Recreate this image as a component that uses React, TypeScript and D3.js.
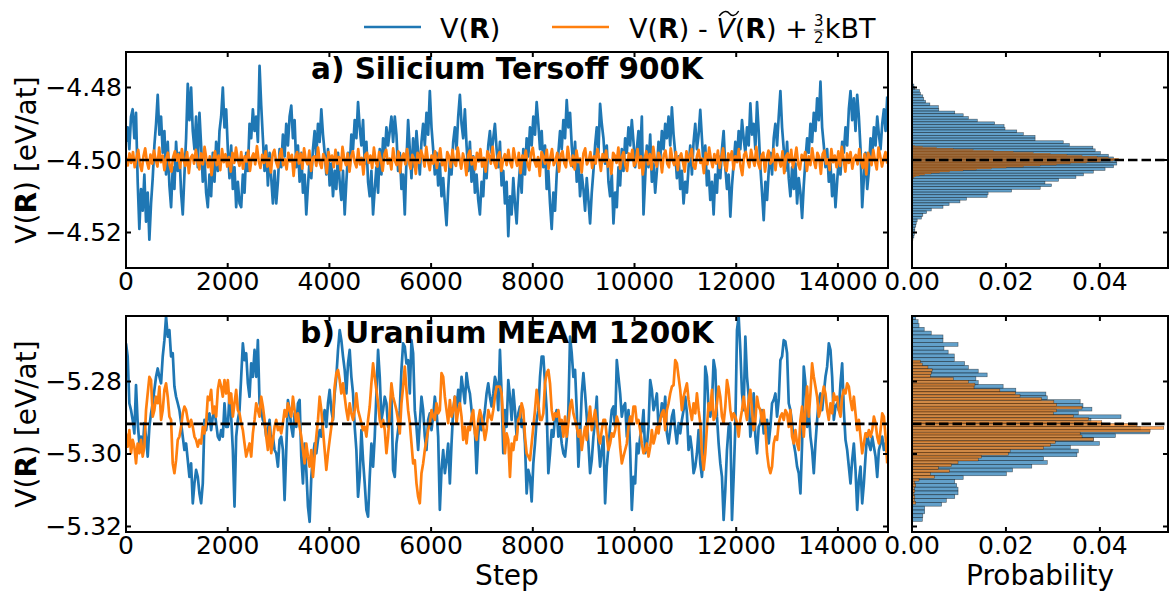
import React, { useLayoutEffect, useRef, useState } from "react";
import * as d3 from "d3";

// ---------------- DATA ----------------
const STEP_FIRST = 0;
const STEP_LAST = 14970;
const STEP_TICKS = [0, 2000, 4000, 6000, 8000, 10000, 12000, 14000];
const PROB_TICKS = [0, 0.02, 0.04];
const SI_TICKS = [-4.52, -4.5, -4.48];
const U_TICKS = [-5.32, -5.3, -5.28];
const TITLES = ["a) Silicium Tersoff 900K", "b) Uranium MEAM 1200K"];
const SI_REF = -4.5;
const U_REF = -5.2917;

// Silicium Tersoff 900K : V(R)
const SI_V = [
-4.495,-4.491,-4.497,-4.488,-4.486,-4.494,-4.487,-4.506,-4.519,-4.508,
-4.514,-4.504,-4.517,-4.509,-4.522,-4.512,-4.505,-4.496,-4.490,-4.482,
-4.493,-4.488,-4.498,-4.492,-4.504,-4.495,-4.507,-4.513,-4.502,-4.508,
-4.495,-4.503,-4.498,-4.509,-4.515,-4.504,-4.494,-4.479,-4.489,-4.480,
-4.492,-4.497,-4.488,-4.502,-4.487,-4.496,-4.506,-4.499,-4.509,-4.513,
-4.504,-4.510,-4.498,-4.506,-4.495,-4.503,-4.492,-4.488,-4.480,-4.491,
-4.486,-4.497,-4.505,-4.496,-4.508,-4.502,-4.513,-4.506,-4.512,-4.513,
-4.504,-4.509,-4.498,-4.503,-4.490,-4.494,-4.486,-4.492,-4.488,-4.495,
-4.474,-4.485,-4.494,-4.503,-4.496,-4.507,-4.498,-4.505,-4.512,-4.503,
-4.512,-4.506,-4.497,-4.502,-4.493,-4.499,-4.490,-4.496,-4.488,-4.485,
-4.494,-4.489,-4.502,-4.496,-4.506,-4.498,-4.509,-4.504,-4.515,-4.507,
-4.500,-4.505,-4.497,-4.492,-4.499,-4.490,-4.495,-4.486,-4.493,-4.498,
-4.504,-4.497,-4.507,-4.501,-4.510,-4.503,-4.508,-4.498,-4.506,-4.511,
-4.503,-4.515,-4.506,-4.498,-4.502,-4.493,-4.497,-4.489,-4.494,-4.484,
-4.491,-4.496,-4.489,-4.501,-4.495,-4.506,-4.510,-4.503,-4.515,-4.508,
-4.502,-4.509,-4.497,-4.504,-4.494,-4.499,-4.491,-4.496,-4.492,-4.488,
-4.495,-4.488,-4.493,-4.503,-4.498,-4.508,-4.504,-4.515,-4.500,-4.489,
-4.497,-4.505,-4.494,-4.502,-4.492,-4.498,-4.504,-4.495,-4.490,-4.496,
-4.487,-4.493,-4.481,-4.491,-4.497,-4.504,-4.498,-4.507,-4.501,-4.510,
-4.505,-4.512,-4.518,-4.508,-4.500,-4.504,-4.495,-4.491,-4.497,-4.488,
-4.482,-4.490,-4.494,-4.486,-4.496,-4.503,-4.495,-4.506,-4.499,-4.509,
-4.504,-4.511,-4.515,-4.506,-4.510,-4.500,-4.505,-4.496,-4.492,-4.498,
-4.494,-4.490,-4.497,-4.502,-4.495,-4.507,-4.503,-4.512,-4.506,-4.521,
-4.510,-4.515,-4.505,-4.512,-4.5175,-4.508,-4.502,-4.509,-4.497,-4.504,
-4.494,-4.499,-4.491,-4.496,-4.488,-4.493,-4.484,-4.490,-4.497,-4.492,
-4.502,-4.496,-4.508,-4.503,-4.512,-4.519,-4.509,-4.514,-4.504,-4.498,
-4.492,-4.497,-4.489,-4.494,-4.4835,-4.491,-4.487,-4.496,-4.502,-4.495,
-4.506,-4.500,-4.510,-4.504,-4.508,-4.514,-4.505,-4.511,-4.5175,-4.509,
-4.503,-4.496,-4.491,-4.498,-4.4845,-4.490,-4.494,-4.501,-4.496,-4.506,
-4.510,-4.504,-4.5175,-4.509,-4.513,-4.502,-4.507,-4.497,-4.503,-4.494,
-4.498,-4.491,-4.496,-4.489,-4.495,-4.502,-4.497,-4.492,-4.499,-4.488,
-4.515,-4.505,-4.496,-4.502,-4.493,-4.506,-4.501,-4.509,-4.503,-4.495,
-4.500,-4.492,-4.497,-4.490,-4.494,-4.488,-4.496,-4.4855,-4.493,-4.498,
-4.505,-4.499,-4.508,-4.503,-4.512,-4.506,-4.509,-4.502,-4.496,-4.504,
-4.495,-4.490,-4.497,-4.493,-4.4862,-4.494,-4.502,-4.496,-4.507,-4.503,
-4.511,-4.506,-4.515,-4.504,-4.509,-4.499,-4.505,-4.497,-4.492,-4.502,
-4.508,-4.504,-4.5156,-4.507,-4.501,-4.495,-4.500,-4.492,-4.497,-4.489,
-4.494,-4.498,-4.491,-4.496,-4.4844,-4.493,-4.490,-4.497,-4.484,-4.492,
-4.502,-4.509,-4.5166,-4.506,-4.511,-4.503,-4.498,-4.504,-4.494,-4.490,
-4.496,-4.488,-4.481,-4.491,-4.497,-4.503,-4.495,-4.505,-4.510,-4.502,
-4.508,-4.501,-4.512,-4.505,-4.509,-4.516,-4.507,-4.500,-4.494,-4.498,
-4.490,-4.495,-4.487,-4.492,-4.483,-4.489,-4.4784,-4.491,-4.496,-4.502,
-4.497,-4.506,-4.501,-4.510,-4.504,-4.513,-4.506,-4.499,-4.504,-4.495,
-4.498,-4.491,-4.496,-4.486,-4.481,-4.489,-4.483,-4.492,-4.482,-4.488,
-4.497,-4.513,-4.505,-4.498,-4.508,-4.503,-4.494,-4.499,-4.491,-4.496,
-4.488,-4.493,-4.497,-4.490,-4.486,-4.492,-4.4825
];

// Silicium Tersoff 900K : V(R) - Vtilde(R) + 3/2 kBT
const SI_CORR = [
-4.4995,-4.5015,-4.4982,-4.5008,-4.4978,-4.502,-4.4994,-4.4972,-4.5012,-4.503,-4.499,-4.4968,-4.5005,-4.5024,-4.4985,-4.501,-4.4974,-4.4998,-4.5018,-4.4966,
-4.5006,-4.4988,-4.5028,-4.4996,-4.498,-4.5014,-4.5032,-4.4992,-4.4976,-4.5002,-4.4984,-4.5022,-4.497,-4.5,-4.5016,-4.4978,-4.5036,-4.4994,-4.4986,-4.501,
-4.4972,-4.5004,-4.5026,-4.4982,-4.5012,-4.4964,-4.4996,-4.502,-4.499,-4.5042,-4.4998,-4.4976,-4.5014,-4.4988,-4.5028,-4.497,-4.5006,-4.4984,-4.5018,-4.4992,
-4.5032,-4.498,-4.5008,-4.4966,-4.4998,-4.5016,-4.4978,-4.5024,-4.499,-4.5004,-4.4974,-4.503,-4.4994,-4.4982,-4.5012,-4.4962,-4.5002,-4.5022,-4.4986,-4.5008,
-4.4976,-4.5018,-4.4996,-4.5034,-4.4984,-4.4972,-4.5006,-4.502,-4.4988,-4.497,-4.5014,-4.4998,-4.5026,-4.498,-4.5004,-4.4986,-4.5044,-4.4992,-4.4978,-4.501,
-4.4982,-4.5024,-4.4968,-4.5,-4.5012,-4.4974,-4.503,-4.4994,-4.499,-4.5016,-4.4966,-4.5008,-4.5022,-4.4984,-4.4996,-4.5036,-4.4978,-4.5002,-4.4988,-4.502,
-4.4972,-4.501,-4.4992,-4.5028,-4.4964,-4.4998,-4.5014,-4.4982,-4.5032,-4.499,-4.4976,-4.5006,-4.502,-4.497,-4.5012,-4.4994,-4.504,-4.4986,-4.498,-4.5008,
-4.4988,-4.5022,-4.4966,-4.5004,-4.5018,-4.4978,-4.5,-4.503,-4.4984,-4.4972,-4.501,-4.4996,-4.5026,-4.4968,-4.5002,-4.5014,-4.4976,-4.5034,-4.4992,-4.4982,
-4.5012,-4.497,-4.5006,-4.5024,-4.4986,-4.4998,-4.5038,-4.498,-4.5008,-4.4974,-4.499,-4.5018,-4.4964,-4.5004,-4.5028,-4.4988,-4.501,-4.4976,-4.5022,-4.4994,
-4.4968,-4.5014,-4.5,-4.503,-4.4978,-4.499,-4.502,-4.4972,-4.5006,-4.5016,-4.4966,-4.4996,-4.5024,-4.4982,-4.5002,-4.5042,-4.4986,-4.4974,-4.5012,-4.4992,
-4.5026,-4.498,-4.5004,-4.497,-4.5018,-4.4994,-4.5032,-4.4976,-4.4988,-4.501,-4.4964,-4.5008,-4.5022,-4.499,-4.4978,-4.503,-4.4998,-4.4984,-4.5014,-4.4972,
-4.5006,-4.502,-4.4968,-4.4996,-4.5016,-4.498,-4.5036,-4.4988,-4.5,-4.4974,-4.5012,-4.5028,-4.4982,-4.4966,-4.5004,-4.5018,-4.4992,-4.5044,-4.4978,-4.499,
-4.501,-4.4972,-4.5024,-4.4994,-4.497,-4.5014,-4.5002,-4.498,-4.5032,-4.4986,-4.4976,-4.5008,-4.502,-4.4964,-4.4998,-4.5016,-4.4988,-4.5026,-4.4974,-4.5006,
-4.4996,-4.5034,-4.4982,-4.4968,-4.5012,-4.5002,-4.4978,-4.5022,-4.499,-4.501,-4.497,-4.4994,-4.503,-4.4984,-4.5004,-4.4974,-4.5018,-4.5,-4.5038,-4.498,
-4.4988,-4.5008,-4.4966,-4.5024,-4.4992,-4.4978,-4.5014,-4.503,-4.4982,-4.4998,-4.4972,-4.5016,-4.5006,-4.497,-4.5022,-4.499,-4.504,-4.4996,-4.4976,-4.5012,
-4.4984,-4.5026,-4.4964,-4.5002,-4.5018,-4.498,-4.4994,-4.5034,-4.4986,-4.4974,-4.501,-4.502,-4.4968,-4.5,-4.5014,-4.4978,-4.5028,-4.4992,-4.4982,-4.5006,
-4.5032,-4.4976,-4.5004,-4.4988,-4.497,-4.5016,-4.5024,-4.499,-4.4972,-4.5008,-4.4996,-4.5036,-4.498,-4.5012,-4.4966,-4.4998,-4.502,-4.4984,-4.501,-4.4974,
-4.5022,-4.4994,-4.4968,-4.5014,-4.503,-4.4982,-4.5,-4.4976,-4.5026,-4.499,-4.5006,-4.497,-4.5018,-4.5042,-4.4986,-4.4978,-4.5002,-4.502,-4.4972,-4.4996,
-4.5016,-4.4964,-4.5008,-4.5024,-4.4988,-4.498,-4.5032,-4.4994,-4.4974,-4.501,-4.5004,-4.497,-4.5028,-4.4984,-4.4998,-4.5018,-4.4976,-4.5036,-4.499,-4.4982,
-4.5006,-4.4972,-4.502,-4.4996,-4.4966,-4.5012,-4.5026,-4.4986,-4.5,-4.4978,-4.503,-4.499,-4.5014,-4.4968,-4.5002,-4.5022,-4.498,-4.4992,-4.5038,-4.4984,
-4.4974,-4.501,-4.4998,-4.5028,-4.497,-4.5006,-4.4988,-4.502,-4.4976,-4.5016,-4.4964,-4.4996,-4.5032,-4.4982,-4.5008,-4.4978,-4.5024,-4.4994,-4.4986,-4.5012,
-4.497,-4.5004,-4.5022,-4.4984,-4.504,-4.498,-4.4992,-4.5014,-4.4972,-4.5002,-4.5026,-4.4966,-4.499,-4.5018,-4.4996,-4.4978,-4.501
];

// Uranium MEAM 1200K : V(R)
const U_V = [
-5.2695,-5.2731,-5.2860,-5.2879,-5.2906,-5.2943,-5.2810,-5.2915,-5.2971,-5.2952,
-5.2989,-5.2915,-5.2952,-5.3007,-5.2925,-5.2888,-5.2860,-5.2823,-5.2787,-5.2764,
-5.2787,-5.2805,-5.2731,-5.2686,-5.2621,-5.2676,-5.2658,-5.2731,-5.2722,-5.2814,
-5.2842,-5.2860,-5.2879,-5.2915,-5.2952,-5.2989,-5.2971,-5.3017,-5.3063,-5.3026,
-5.3136,-5.3081,-5.3044,-5.3063,-5.3109,-5.3136,-5.3081,-5.2906,-5.2934,-5.2897,
-5.2888,-5.2934,-5.2897,-5.2879,-5.2915,-5.2952,-5.2961,-5.2934,-5.2952,-5.2860,
-5.2925,-5.2925,-5.2833,-5.2897,-5.2989,-5.3145,-5.2952,-5.2906,-5.2879,-5.2787,
-5.2695,-5.2741,-5.2722,-5.2805,-5.2842,-5.2750,-5.2787,-5.2713,-5.2787,-5.2686,
-5.2860,-5.2879,-5.2906,-5.2915,-5.2952,-5.2934,-5.2906,-5.2971,-5.2952,-5.2989,
-5.2998,-5.3035,-5.2961,-5.2952,-5.2989,-5.3127,-5.2989,-5.2851,-5.2879,-5.2925,
-5.2952,-5.2888,-5.2925,-5.2860,-5.2851,-5.3007,-5.3081,-5.2971,-5.3044,-5.3145,
-5.3187,-5.3063,-5.3007,-5.2971,-5.2998,-5.2961,-5.2934,-5.2952,-5.2906,-5.2879,
-5.2925,-5.2860,-5.2823,-5.2879,-5.2906,-5.2833,-5.2787,-5.2713,-5.2658,-5.2686,
-5.2731,-5.2768,-5.2833,-5.2750,-5.2713,-5.2787,-5.2833,-5.2925,-5.2989,-5.3118,
-5.3063,-5.2934,-5.3017,-5.3081,-5.3154,-5.3173,-5.3063,-5.2971,-5.3035,-5.2952,
-5.2833,-5.2713,-5.2787,-5.2906,-5.2879,-5.2842,-5.2860,-5.2925,-5.2906,-5.2842,
-5.3044,-5.3063,-5.2971,-5.2934,-5.2879,-5.2768,-5.2695,-5.2704,-5.2750,-5.2741,
-5.2833,-5.2686,-5.2722,-5.2879,-5.2925,-5.2989,-5.2915,-5.2842,-5.2879,-5.2952,
-5.2989,-5.2906,-5.2888,-5.2934,-5.2897,-5.2842,-5.2879,-5.2952,-5.3154,-5.3044,
-5.2989,-5.3053,-5.3017,-5.2971,-5.3081,-5.2971,-5.2879,-5.2842,-5.2879,-5.2823,
-5.2860,-5.2787,-5.2823,-5.2860,-5.2777,-5.2814,-5.2833,-5.2879,-5.2915,-5.2934,
-5.3053,-5.2952,-5.2897,-5.2934,-5.2915,-5.2879,-5.2833,-5.2805,-5.2842,-5.2869,
-5.2833,-5.2787,-5.2805,-5.2879,
-5.2713,-5.2833,-5.2998,-5.2879,-5.2925,-5.2796,-5.2842,-5.2906,-5.2823,-5.2879,
-5.2952,-5.2888,-5.2869,-5.2925,-5.2906,-5.2971,-5.3109,-5.3044,-5.3063,-5.3131,
-5.3026,-5.2971,-5.2906,-5.2879,-5.2787,-5.2731,-5.2731,-5.2805,-5.2879,-5.3053,
-5.2998,-5.2934,-5.2952,-5.2897,-5.2879,-5.2952,-5.2925,-5.2971,-5.2998,-5.3007,
-5.2961,-5.2879,-5.2676,-5.2722,-5.2787,-5.2768,-5.2879,-5.3035,-5.2952,-5.2833,
-5.2777,-5.2833,-5.2897,-5.2971,-5.3053,-5.3017,-5.2952,-5.2906,-5.2842,-5.2971,
-5.3035,-5.2989,-5.2952,-5.3136,-5.3035,-5.2980,-5.2925,-5.2879,-5.2869,-5.2925,
-5.2741,-5.2787,-5.2833,-5.2897,-5.2869,-5.2860,-5.2952,-5.2879,-5.2989,-5.3154,
-5.3063,-5.3081,-5.2971,-5.2998,-5.2952,-5.2934,-5.2879,-5.2998,-5.2980,-5.2925,
-5.2796,-5.2823,-5.2879,-5.2860,-5.2833,-5.2925,-5.2906,-5.2860,-5.2897,-5.2842,
-5.2943,-5.2971,-5.2934,-5.2897,-5.2879,-5.2934,-5.2971,-5.2915,-5.2943,-5.2906,
-5.2879,-5.2842,-5.2888,-5.2989,-5.2952,-5.2989,-5.3053,-5.3035,-5.2998,-5.2934,
-5.3026,-5.3063,-5.2989,-5.2759,-5.2787,-5.2879,-5.2897,-5.2860,-5.2741,-5.2768,
-5.2897,-5.2971,-5.3026,-5.3063,-5.3182,-5.3099,-5.2989,-5.2925,-5.2915,-5.3182,
-5.3063,-5.2925,-5.2658,-5.2621,-5.2713,-5.2833,-5.2879,-5.2676,-5.2787,-5.2842,
-5.2952,-5.2915,-5.2833,-5.2952,-5.2998,-5.2925,-5.2915,-5.2879,-5.2943,-5.2925,
-5.2906,-5.2971,-5.2925,-5.2860,-5.2851,-5.2833,-5.2897,-5.2851,-5.2741,-5.2731,
-5.2686,-5.2690,-5.2722,-5.2860,-5.2879,-5.2915,-5.2971,-5.2998,-5.3035,-5.3053,
-5.3109,-5.2971,-5.2759,-5.2805,-5.2925,-5.2879,-5.2952,-5.2989,-5.3053,-5.2971,
-5.2906,-5.2851,-5.2833,-5.2879,-5.2833,-5.2787,-5.2759,-5.2695,-5.2713,-5.2787,
-5.2906,-5.2869,-5.2860,-5.2879,-5.2805,-5.2750,-5.2879,-5.2961,-5.2989,-5.3035,
-5.3081,-5.3017,-5.2971,-5.3044,-5.3154,-5.3072,-5.3035,-5.3136,-5.3081,-5.3007,
-5.2943,-5.2971,-5.2989,-5.2952,-5.2980,-5.3007,-5.3063,-5.2989,-5.2971,-5.2952,
-5.2989,-5.2971,-5.2998
];

// Uranium MEAM 1200K : V(R) - Vtilde(R) + 3/2 kBT
const U_CORR = [
-5.2943,-5.2980,-5.2934,-5.2998,-5.2961,-5.2980,-5.3026,-5.2971,-5.2998,-5.2961,
-5.3007,-5.2980,-5.2879,-5.2833,-5.2787,-5.2796,-5.2897,-5.2879,-5.2842,-5.2860,
-5.2814,-5.2906,-5.2879,-5.2823,-5.2805,-5.2842,-5.2897,-5.2906,-5.3026,-5.3053,
-5.3017,-5.2961,-5.2952,-5.2925,-5.2888,-5.2869,-5.2879,-5.2906,-5.2925,-5.2906,
-5.2925,-5.2952,-5.2961,-5.2980,-5.2961,-5.2971,-5.2925,-5.2943,-5.2915,-5.2842,
-5.2851,-5.2823,-5.2888,-5.2869,-5.2897,-5.2823,-5.2796,-5.2814,-5.2842,-5.2796,
-5.2833,-5.2796,-5.2860,-5.2833,-5.2897,-5.2860,-5.2823,-5.2879,-5.2888,-5.2915,
-5.2934,-5.2971,-5.3007,-5.2989,-5.2971,-5.3007,-5.2943,-5.2906,-5.2860,-5.2879,
-5.2897,-5.2842,-5.2869,-5.2906,-5.2952,-5.2989,-5.2925,-5.2998,-5.2961,-5.2925,
-5.2906,-5.2934,-5.2925,-5.2943,-5.2915,-5.2879,-5.2897,-5.2860,-5.2879,-5.2897,
-5.2842,-5.2879,-5.2915,-5.2888,-5.2925,-5.2952,-5.2989,-5.3026,-5.2971,-5.3007,
-5.3035,-5.2989,-5.3063,-5.3007,-5.2952,-5.2906,-5.2842,-5.2879,-5.2934,-5.2989,
-5.3044,-5.2998,-5.2961,-5.2925,-5.2897,-5.2814,-5.2777,-5.2768,-5.2796,-5.2833,
-5.2805,-5.2842,-5.2879,-5.2906,-5.2860,-5.2888,-5.2906,-5.2879,-5.2833,-5.2879,
-5.2897,-5.2915,-5.2934,-5.2925,-5.2952,-5.2906,-5.2869,-5.2805,-5.2750,-5.2787,
-5.2823,-5.2860,-5.2906,-5.2925,-5.2906,-5.2934,-5.2998,-5.2952,-5.2879,-5.2805,
-5.2842,-5.2860,-5.2879,-5.2906,-5.2943,-5.2860,-5.2814,-5.2759,-5.2823,-5.2879,
-5.2915,-5.2971,-5.3026,-5.3017,-5.3081,-5.3118,-5.3136,-5.3053,-5.3026,-5.2989,
-5.2961,-5.2934,-5.2915,-5.2879,-5.2897,-5.2906,-5.2860,-5.2888,-5.2879,-5.2777,
-5.2787,-5.2842,-5.2879,-5.2915,-5.2851,-5.2897,-5.2879,-5.2842,-5.2915,-5.2879,
-5.2860,-5.2897,-5.2961,-5.2925,-5.2971,-5.2925,-5.2934,-5.2897,-5.2879,-5.2943,
-5.2961,-5.2906,-5.2879,-5.2897,-5.2925,-5.2961,-5.2934,-5.2879,-5.2897,-5.2906,
-5.2879,-5.2842,-5.2814,-5.2814,
-5.2814,-5.2833,-5.2915,-5.2998,-5.2943,-5.2961,-5.3063,-5.2971,-5.2989,-5.2952,
-5.2961,-5.2906,-5.2897,-5.2860,-5.2879,-5.2952,-5.2998,-5.3007,-5.3017,-5.2971,
-5.2925,-5.2879,-5.2823,-5.2860,-5.2906,-5.2906,-5.2888,-5.2805,-5.2777,-5.2768,
-5.2805,-5.2879,-5.2906,-5.2888,-5.2897,-5.2879,-5.2915,-5.2906,-5.2952,-5.2897,
-5.2952,-5.2915,-5.2869,-5.2851,-5.2888,-5.2906,-5.2925,-5.2952,-5.2934,-5.2989,
-5.2952,-5.2925,-5.2961,-5.2906,-5.2869,-5.2934,-5.2906,-5.2879,-5.2915,-5.2952,
-5.2971,-5.2934,-5.2906,-5.2906,-5.2952,-5.2989,-5.2971,-5.2943,-5.2952,-5.2934,
-5.2897,-5.2915,-5.2980,-5.3026,-5.3007,-5.2989,-5.2971,-5.2925,-5.2897,-5.2915,
-5.2869,-5.2869,-5.2915,-5.2906,-5.2934,-5.2971,-5.2998,-5.2989,-5.2971,-5.3007,
-5.2980,-5.2934,-5.2971,-5.2952,-5.2925,-5.2943,-5.2906,-5.2888,-5.2879,-5.2934,
-5.2879,-5.2860,-5.2833,-5.2814,-5.2810,-5.2741,-5.2750,-5.2787,-5.2823,-5.2879,
-5.2842,-5.2823,-5.2805,-5.2851,-5.2879,-5.2906,-5.2860,-5.2888,-5.2833,-5.2879,
-5.2915,-5.2998,-5.3044,-5.2998,-5.2925,-5.2860,-5.2879,-5.2823,-5.2906,-5.2897,
-5.2860,-5.2814,-5.2842,-5.2897,-5.2915,-5.2869,-5.2796,-5.2823,-5.2879,-5.2906,
-5.2888,-5.2897,-5.2915,-5.2952,-5.2906,-5.2879,-5.2842,-5.2879,-5.2906,-5.2851,
-5.2823,-5.2879,-5.2934,-5.2906,-5.2842,-5.2869,-5.2879,-5.2915,-5.2879,-5.2925,
-5.2998,-5.3035,-5.3053,-5.3035,-5.2971,-5.2952,-5.2961,-5.2915,-5.2897,-5.2888,
-5.2906,-5.2879,-5.2888,-5.2925,-5.2879,-5.2952,-5.2971,-5.2934,-5.2971,-5.2989,
-5.2906,-5.2869,-5.2952,-5.2879,-5.2814,-5.2897,-5.2833,-5.2750,-5.2787,-5.2814,
-5.2842,-5.2897,-5.2879,-5.2842,-5.2814,-5.2833,-5.2879,-5.2906,-5.2860,-5.2888,
-5.2833,-5.2851,-5.2842,-5.2879,-5.2897,-5.2842,-5.2823,-5.2833,-5.2805,-5.2814,
-5.2851,-5.2879,-5.2842,-5.2888,-5.2934,-5.2906,-5.2952,-5.2998,-5.2971,-5.2943,
-5.2952,-5.2934,-5.2952,-5.2934,-5.2897,-5.2915,-5.2952,-5.2971,-5.2934,-5.2888,
-5.2897,-5.2952,-5.3026
];

// Histograms: probability per bin, listed from the highest-energy bin downward
const SI_HIST_V_TOP = -4.4783;
const SI_HIST_V_BIN = 0.000745;
const SI_HIST_V = [
0.0001,0.0004,0.0006,0.0016,0.0018,0.0023,0.0025,0.0029,0.0038,0.0056,
0.0057,0.0091,0.0109,0.0120,0.0139,0.0176,0.0196,0.0198,0.0223,0.0237,
0.0262,0.0262,0.0322,0.0335,0.0385,0.0390,0.0401,0.0418,0.0429,0.0435,
0.0436,0.0429,0.0411,0.0386,0.0365,0.0349,0.0312,0.0283,0.0297,0.0273,
0.0212,0.0162,0.0160,0.0116,0.0102,0.0079,0.0066,0.0041,0.0031,0.0023,
0.0020,0.0011,0.0009,0.0008,0.0006,0.0006,0.0005,0.0004,0.0002,0.0001
];
const SI_HIST_CORR_TOP = -4.49595;
const SI_HIST_CORR_BIN = 0.000273;
const SI_HIST_CORR = [
0.0006,0.0023,0.0052,0.0088,0.0130,0.0173,0.0216,0.0258,0.0294,0.0330,
0.0362,0.0394,0.0418,0.0440,0.0451,0.0429,0.0401,0.0372,0.0337,0.0308,
0.0273,0.0237,0.0201,0.0169,0.0137,0.0109,0.0080,0.0059,0.0041,0.0027,
0.0016,0.0008,0.0004
];
const U_HIST_V_TOP = -5.2619;
const U_HIST_V_BIN = 0.00105;
const U_HIST_V = [
0.0008,0.0013,0.0015,0.0026,0.0041,0.0066,0.0066,0.0098,0.0068,0.0077,
0.0090,0.0090,0.0112,0.0120,0.0141,0.0160,0.0136,0.0141,0.0194,0.0221,
0.0285,0.0288,0.0358,0.0364,0.0383,0.0354,0.0445,0.0381,0.0404,0.0486,
0.0506,0.0433,0.0386,0.0399,0.0337,0.0354,0.0351,0.0280,0.0288,0.0255,
0.0214,0.0201,0.0109,0.0091,0.0095,0.0098,0.0098,0.0091,0.0073,0.0063,
0.0027,0.0027,0.0023,0.0022
];
const U_HIST_CORR_TOP = -5.2741;
const U_HIST_CORR_BIN = 0.000795;
const U_HIST_CORR = [
0.0018,0.0022,0.0034,0.0043,0.0041,0.0039,0.0088,0.0120,0.0134,0.0132,
0.0187,0.0220,0.0230,0.0276,0.0302,0.0308,0.0362,0.0308,0.0301,0.0344,
0.0376,0.0404,0.0479,0.0536,0.0507,0.0358,0.0362,0.0386,0.0305,0.0295,
0.0280,0.0209,0.0205,0.0148,0.0141,0.0098,0.0084,0.0056,0.0080,0.0039,
0.0048,0.0015,0.0006,0.0008,0.0005,0.0006,0.0004,0.0006,0.0005,0.0008
];

// ---------------- LAYOUT ----------------
const BLUE = "#1f77b4";
const ORANGE = "#ff7f0e";
const FONT = "'DejaVu Sans', Verdana, sans-serif";
const MX0 = 126, MX1 = 888, HX0 = 912, HX1 = 1168;
const TICK_FS = 25, LABEL_FS = 28;

type Hist = { top: number; bin: number; p: number[]; color: string; sw: number };
type Panel = {
  y0: number; y1: number; dom: [number, number]; ticks: number[];
  series: number[][]; ref: number; title: string; hists: Hist[];
};

const PANELS: Panel[] = [
  {
    y0: 52, y1: 268, dom: [-4.52979, -4.47021], ticks: SI_TICKS,
    series: [SI_V, SI_CORR], ref: SI_REF, title: TITLES[0],
    hists: [
      { top: SI_HIST_V_TOP, bin: SI_HIST_V_BIN, p: SI_HIST_V, color: BLUE, sw: 0.6 },
      { top: SI_HIST_CORR_TOP, bin: SI_HIST_CORR_BIN, p: SI_HIST_CORR, color: ORANGE, sw: 0.3 },
    ],
  },
  {
    y0: 316, y1: 532, dom: [-5.32152, -5.26193], ticks: U_TICKS,
    series: [U_V, U_CORR], ref: U_REF, title: TITLES[1],
    hists: [
      { top: U_HIST_V_TOP, bin: U_HIST_V_BIN, p: U_HIST_V, color: BLUE, sw: 0.6 },
      { top: U_HIST_CORR_TOP, bin: U_HIST_CORR_BIN, p: U_HIST_CORR, color: ORANGE, sw: 0.5 },
    ],
  },
];

const xStep = d3.scaleLinear().domain([0, 14985]).range([MX0, MX1]);
const xProb = d3.scaleLinear().domain([0, 0.0545]).range([HX0, HX1]);
const fmtY = d3.format(".2f");
const fmtP = d3.format(".2f");

function PanelView({ p, idx }: { p: Panel; idx: number }) {
  const y = d3.scaleLinear().domain(p.dom).range([p.y1, p.y0]);
  const clipId = `clip-main-${idx}`;
  const clipH = `clip-hist-${idx}`;
  const lines = p.series.map((s) => {
    const n = s.length;
    const gen = d3
      .line<number>()
      .x((_, i) => xStep(STEP_FIRST + (i * (STEP_LAST - STEP_FIRST)) / (n - 1)))
      .y((v) => y(v));
    return gen(s) || "";
  });
  const TL = 5;
  const ry = y(p.ref);
  return (
    <g>
      <defs>
        <clipPath id={clipId}>
          <rect x={MX0} y={p.y0} width={MX1 - MX0} height={p.y1 - p.y0} />
        </clipPath>
        <clipPath id={clipH}>
          <rect x={HX0} y={p.y0} width={HX1 - HX0} height={p.y1 - p.y0} />
        </clipPath>
      </defs>
      <g clipPath={`url(#${clipId})`}>
        <path d={lines[0]} fill="none" stroke={BLUE} strokeWidth={2.7} strokeLinejoin="round" />
        <path d={lines[1]} fill="none" stroke={ORANGE} strokeWidth={2.7} strokeLinejoin="round" />
        <line x1={MX0} x2={MX1} y1={ry} y2={ry} stroke="#000" strokeWidth={2.6} strokeDasharray="9.5,4" />
      </g>
      <g clipPath={`url(#${clipH})`}>
        {p.hists.map((h, hi) => (
          <g key={hi}>
            {h.p.map((v, i) => {
              const hiV = h.top - i * h.bin;
              const loV = hiV - h.bin;
              const yTop = y(hiV);
              const yBot = y(loV);
              return (
                <rect
                  key={i}
                  x={xProb(0)}
                  y={yTop}
                  width={xProb(v) - xProb(0)}
                  height={yBot - yTop}
                  fill={h.color}
                  fillOpacity={0.7}
                  stroke="#000"
                  strokeOpacity={0.55}
                  strokeWidth={h.sw}
                />
              );
            })}
          </g>
        ))}
        <line x1={HX0} x2={HX1} y1={ry} y2={ry} stroke="#000" strokeWidth={2.6} strokeDasharray="9.5,4" />
      </g>
      {STEP_TICKS.map((t) => (
        <g key={`xt${t}`}>
          <line x1={xStep(t)} x2={xStep(t)} y1={p.y1} y2={p.y1 - TL} stroke="#000" strokeWidth={2} />
          <line x1={xStep(t)} x2={xStep(t)} y1={p.y0} y2={p.y0 + TL} stroke="#000" strokeWidth={2} />
          <text x={xStep(t)} y={p.y1 + 22} textAnchor="middle" fontSize={TICK_FS} fontFamily={FONT}>
            {String(t)}
          </text>
        </g>
      ))}
      {p.ticks.map((t) => (
        <g key={`yt${t}`}>
          <line x1={MX0} x2={MX0 + TL} y1={y(t)} y2={y(t)} stroke="#000" strokeWidth={2} />
          <line x1={MX1} x2={MX1 - TL} y1={y(t)} y2={y(t)} stroke="#000" strokeWidth={2} />
          <text x={MX0 - 4} y={y(t)} textAnchor="end" dominantBaseline="central" fontSize={TICK_FS} fontFamily={FONT}>
            {fmtY(t)}
          </text>
          <line x1={HX0} x2={HX0 + TL} y1={y(t)} y2={y(t)} stroke="#000" strokeWidth={2} />
          <line x1={HX1} x2={HX1 - TL} y1={y(t)} y2={y(t)} stroke="#000" strokeWidth={2} />
        </g>
      ))}
      {PROB_TICKS.map((t) => (
        <g key={`pt${t}`}>
          <line x1={xProb(t)} x2={xProb(t)} y1={p.y1} y2={p.y1 - TL} stroke="#000" strokeWidth={2} />
          <line x1={xProb(t)} x2={xProb(t)} y1={p.y0} y2={p.y0 + TL} stroke="#000" strokeWidth={2} />
          <text x={xProb(t)} y={p.y1 + 22} textAnchor="middle" fontSize={TICK_FS} fontFamily={FONT}>
            {fmtP(t)}
          </text>
        </g>
      ))}
      <rect x={MX0} y={p.y0} width={MX1 - MX0} height={p.y1 - p.y0} fill="none" stroke="#000" strokeWidth={2} />
      <rect x={HX0} y={p.y0} width={HX1 - HX0} height={p.y1 - p.y0} fill="none" stroke="#000" strokeWidth={2} />
      <text x={(MX0 + MX1) / 2} y={p.y0 + 27} textAnchor="middle" fontSize={29.5} fontWeight="bold" fontFamily={FONT}>
        {p.title}
      </text>
      <text
        transform={`translate(${36},${(p.y0 + p.y1) / 2}) rotate(-90)`}
        textAnchor="middle"
        fontSize={LABEL_FS}
        fontFamily={FONT}
      >
        {"V("}
        <tspan fontWeight="bold">R</tspan>
        {") [eV/at]"}
      </text>
    </g>
  );
}

export default function App() {
  const italRef = useRef<SVGTSpanElement>(null);
  const plusRef = useRef<SVGTSpanElement>(null);
  const [leg, setLeg] = useState({ tx: 714, tw: 18, fx: 805 });
  useLayoutEffect(() => {
    const it = italRef.current;
    const pl = plusRef.current;
    if (!it || !pl) return;
    try {
      const e = it.getExtentOfChar(0);
      const p0 = pl.getStartPositionOfChar(0);
      const fx = p0.x + pl.getComputedTextLength();
      setLeg({ tx: e.x, tw: e.width, fx });
    } catch (err) {
      /* keep defaults */
    }
  }, []);
  const LY = 38;
  const LFS = 27;
  const tl = leg.tx + 3;
  const tw = leg.tw;
  const fx = leg.fx + 5;
  return (
    <svg
      width={1170}
      height={595}
      style={{ position: "absolute", left: 0, top: 0, background: "#fff" }}
      fontFamily={FONT}
    >
      <rect x={0} y={0} width={1170} height={595} fill="#fff" />
      {PANELS.map((p, i) => (
        <PanelView key={i} p={p} idx={i} />
      ))}
      <text x={(MX0 + MX1) / 2} y={585} textAnchor="middle" fontSize={LABEL_FS} fontFamily={FONT}>
        Step
      </text>
      <text x={(HX0 + HX1) / 2} y={585} textAnchor="middle" fontSize={LABEL_FS} fontFamily={FONT}>
        Probability
      </text>
      {/* legend */}
      <line x1={364} x2={421} y1={27} y2={27} stroke={BLUE} strokeWidth={2.7} />
      <text x={440} y={LY} fontSize={LFS} fontFamily={FONT}>
        {"V("}
        <tspan fontWeight="bold">R</tspan>
        {")"}
      </text>
      <line x1={552} x2={609} y1={27} y2={27} stroke={ORANGE} strokeWidth={2.7} />
      <text x={629} y={LY} fontSize={LFS} fontFamily={FONT}>
        {"V("}
        <tspan fontWeight="bold">R</tspan>
        {") - "}
        <tspan ref={italRef} fontStyle="italic">V</tspan>
        {"("}
        <tspan fontWeight="bold">R</tspan>
        <tspan ref={plusRef}>{") +"}</tspan>
      </text>
      <path
        d={`M ${tl} ${16} C ${tl + tw * 0.25} ${10}, ${tl + tw * 0.45} ${11}, ${tl + tw * 0.55} ${13.5} S ${tl + tw * 0.85} ${17}, ${tl + tw * 1.05} ${11}`}
        fill="none"
        stroke="#000"
        strokeWidth={1.4}
      />
      <text x={fx + 6} y={26} textAnchor="middle" fontSize={15} fontFamily={FONT}>3</text>
      <line x1={fx + 1} x2={fx + 11} y1={30} y2={30} stroke="#000" strokeWidth={0.8} />
      <text x={fx + 6} y={43} textAnchor="middle" fontSize={15} fontFamily={FONT}>2</text>
      <text x={fx + 12} y={LY} fontSize={LFS} fontFamily={FONT}>kBT</text>
    </svg>
  );
}
